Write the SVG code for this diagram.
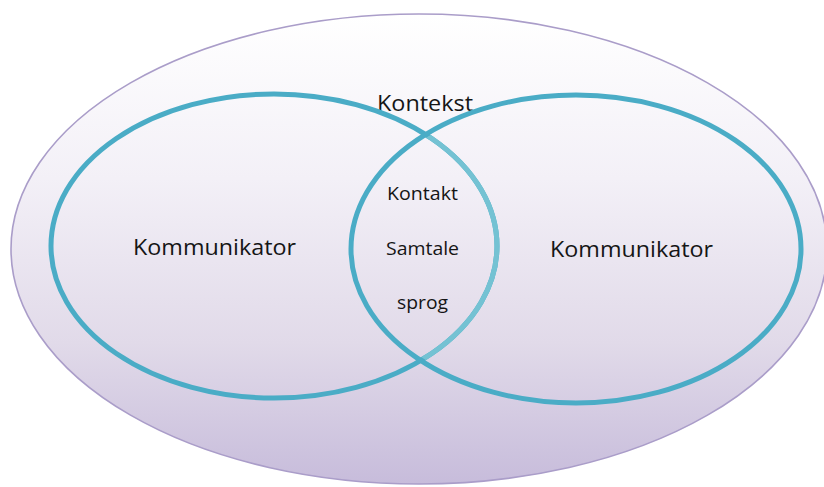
<svg xmlns="http://www.w3.org/2000/svg" width="824" height="487" viewBox="0 0 824 487">
  <defs>
    <linearGradient id="bg" x1="0" y1="0" x2="0" y2="1">
      <stop offset="0" stop-color="#ffffff"/>
      <stop offset="0.35" stop-color="#f3f0f7"/>
      <stop offset="0.7" stop-color="#e1dae9"/>
      <stop offset="1" stop-color="#c7bcdb"/>
    </linearGradient>
    <clipPath id="rightIn">
      <ellipse cx="576" cy="249" rx="222" ry="151"/>
    </clipPath>
    <style>
      .ring { fill: none; stroke: #4aacc6; stroke-width: 5; }
      .lbl { font-family: "Open Sans", "Liberation Sans", sans-serif; fill: #151515; }
      .big { font-size: 22px; }
      .small { font-size: 18px; }
    </style>
  </defs>

  <g id="kontekst">
    <ellipse cx="419" cy="249" rx="408" ry="235" fill="url(#bg)" stroke="#aa9dc9" stroke-width="1.6"/>
    <text class="lbl big" x="377" y="111" textLength="96" lengthAdjust="spacingAndGlyphs">Kontekst</text>
  </g>

  <g id="kommunikator-left">
    <ellipse class="ring" cx="274" cy="246" rx="223" ry="152"/>
    <ellipse cx="274" cy="246" rx="223" ry="152" fill="none" stroke="#74c2d3" stroke-width="5" clip-path="url(#rightIn)"/>
    <text class="lbl big" x="133" y="255" textLength="163" lengthAdjust="spacingAndGlyphs">Kommunikator</text>
  </g>

  <g id="kommunikator-right">
    <ellipse class="ring" cx="576" cy="249" rx="225" ry="154"/>
    <text class="lbl big" x="550" y="257" textLength="163" lengthAdjust="spacingAndGlyphs">Kommunikator</text>
  </g>

  <g id="overlap">
    <text class="lbl small" x="387" y="200" textLength="71" lengthAdjust="spacingAndGlyphs">Kontakt</text>
    <text class="lbl small" x="386" y="255" textLength="73" lengthAdjust="spacingAndGlyphs">Samtale</text>
    <text class="lbl small" x="397" y="309" textLength="51" lengthAdjust="spacingAndGlyphs">sprog</text>
  </g>

  <g id="connectors"/>
</svg>
